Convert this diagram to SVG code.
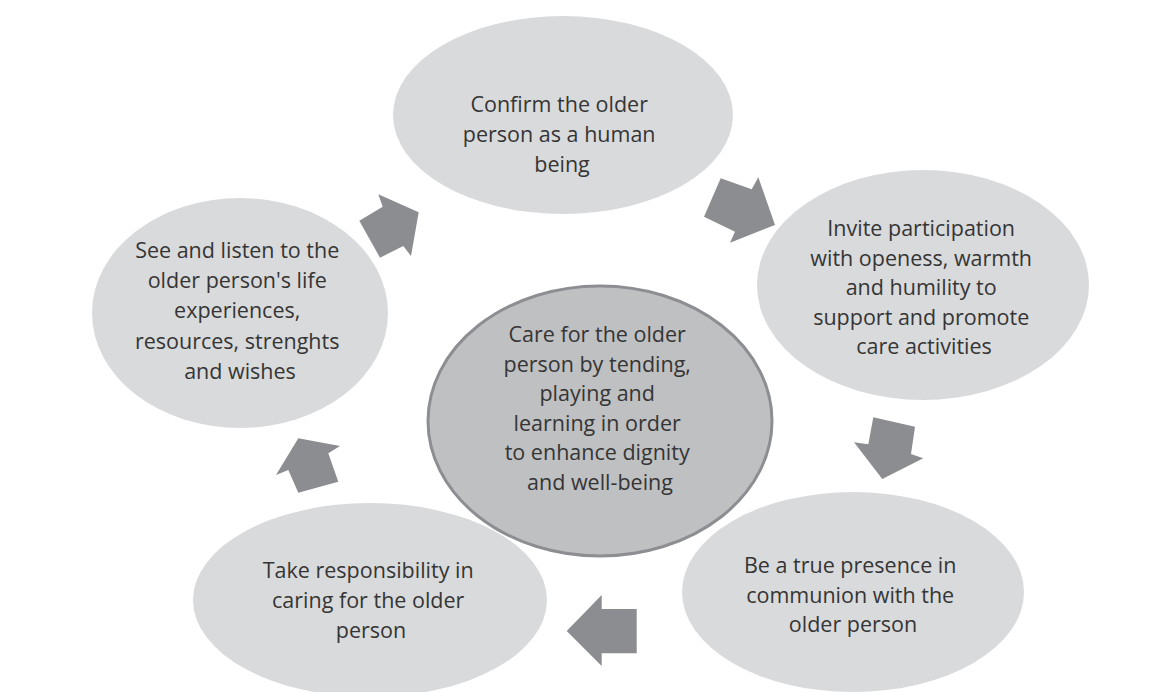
<svg xmlns="http://www.w3.org/2000/svg" width="1165" height="692" viewBox="0 0 1165 692">
  <style>
    .node { fill: #d9dadb; }
    .hub { fill: #bfc0c2; stroke: #8d8e92; stroke-width: 3; }
    .label { font-family: "Open Sans", "Liberation Sans", sans-serif; font-size: 21.5px; fill: #353535; text-anchor: middle; }
    .arrow { fill: #8c8d91; }
  </style>

  <rect width="1165" height="692" fill="#ffffff"/>

  <!-- block arrows running clockwise round the hub -->
  <g id="connectors">
    <polygon class="arrow" points="359.3,220.7 382.7,206.7 378.3,194.3 418.7,212.3 411,256 403.3,246 380,257.7"/>
    <polygon class="arrow" points="720.7,178.3 751.7,189.3 758.3,177.3 775,225 730,242.7 735,231.7 704,216.7"/>
    <polygon class="arrow" points="873.3,417.3 915,426.7 911,454 923.3,458.3 882.3,479 854,442.3 868.3,444.3"/>
    <polygon class="arrow" points="636.7,609 601.7,609 601.7,595 566.7,631 601.7,666 601.7,653.3 636.7,653.3"/>
    <polygon class="arrow" points="298.3,438.3 340,446 328.3,453.3 338.3,481.7 298.3,492.7 288.3,470 276,475"/>
  </g>

  <g id="node-confirm">
    <ellipse class="node" cx="563" cy="115" rx="170" ry="99"/>
    <text class="label">
      <tspan x="562" y="112">Confirm the older</tspan>
      <tspan x="562" y="142">person as a human</tspan>
      <tspan x="562" y="172">being</tspan>
    </text>
  </g>

  <g id="node-invite">
    <ellipse class="node" cx="923" cy="285" rx="166" ry="115"/>
    <text class="label">
      <tspan x="924" y="236">Invite participation</tspan>
      <tspan x="924" y="265.5">with openess, warmth</tspan>
      <tspan x="924" y="295">and humility to</tspan>
      <tspan x="924" y="324.5">support and promote</tspan>
      <tspan x="924" y="354">care activities</tspan>
    </text>
  </g>

  <g id="node-presence">
    <ellipse class="node" cx="853" cy="592" rx="171" ry="100"/>
    <text class="label">
      <tspan x="853" y="573">Be a true presence in</tspan>
      <tspan x="853" y="602.5">communion with the</tspan>
      <tspan x="853" y="632">older person</tspan>
    </text>
  </g>

  <g id="node-responsibility">
    <ellipse class="node" cx="370" cy="600" rx="177" ry="97"/>
    <text class="label">
      <tspan x="371" y="578">Take responsibility in</tspan>
      <tspan x="371" y="608">caring for the older</tspan>
      <tspan x="371" y="638">person</tspan>
    </text>
  </g>

  <g id="node-listen">
    <ellipse class="node" cx="240" cy="313" rx="148" ry="115"/>
    <text class="label">
      <tspan x="240" y="258">See and listen to the</tspan>
      <tspan x="240" y="288">older person's life</tspan>
      <tspan x="240" y="318">experiences,</tspan>
      <tspan x="240" y="348.5">resources, strenghts</tspan>
      <tspan x="240" y="378.5">and wishes</tspan>
    </text>
  </g>

  <g id="node-care">
    <ellipse class="hub" cx="600" cy="421" rx="172" ry="135"/>
    <text class="label">
      <tspan x="600" y="342">Care for the older</tspan>
      <tspan x="600" y="371.5">person by tending,</tspan>
      <tspan x="600" y="401">playing and</tspan>
      <tspan x="600" y="430.5">learning in order</tspan>
      <tspan x="600" y="460">to enhance dignity</tspan>
      <tspan x="600" y="489.5">and well-being</tspan>
    </text>
  </g>
</svg>
